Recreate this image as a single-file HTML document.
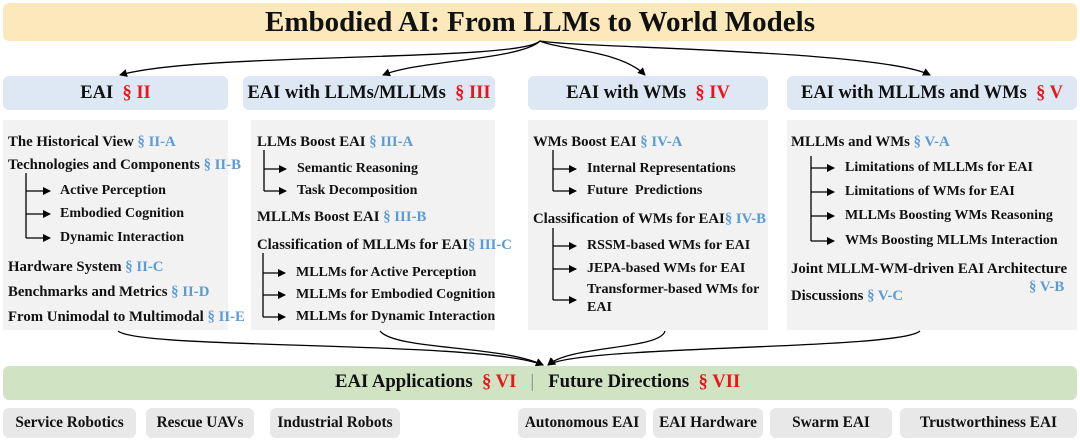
<!DOCTYPE html><html><head><style>
body{margin:0;width:1080px;height:442px;position:relative;background:#fff;font-family:"Liberation Serif",serif;font-weight:bold;color:#111;overflow:hidden}
.a{position:absolute;white-space:nowrap}
.bx{position:absolute;border-radius:6px;white-space:nowrap}
.t{position:absolute;white-space:nowrap;font-size:14.8px;line-height:18px}
.s{font-size:14px}
.b{color:#5b9bd5}.r{color:#e8161b}
.h{display:flex;align-items:center;justify-content:center;font-size:18.5px}
.p{background:#e8e8e8;display:flex;align-items:center;justify-content:center;font-size:15.3px}
</style></head><body>
<div class="bx h" style="left:3px;top:3px;width:1074px;height:38px;background:#fbe9bc;font-size:29px">Embodied AI: From LLMs to World Models</div>
<div class="bx h" style="left:3px;top:76px;width:225px;height:34px;background:#dde8f4">EAI&nbsp;&nbsp;<span class="r">§ II</span></div>
<div class="bx h" style="left:243px;top:76px;width:252px;height:34px;background:#dde8f4">EAI with LLMs/MLLMs&nbsp;&nbsp;<span class="r">§ III</span></div>
<div class="bx h" style="left:528px;top:76px;width:240px;height:34px;background:#dde8f4">EAI with WMs&nbsp;&nbsp;<span class="r">§ IV</span></div>
<div class="bx h" style="left:787px;top:76px;width:290px;height:34px;background:#dde8f4">EAI with MLLMs and WMs&nbsp;&nbsp;<span class="r">§ V</span></div>
<div class="a" style="left:3px;top:120px;width:225px;height:210px;background:#f2f2f2"></div>
<div class="a" style="left:251px;top:120px;width:244px;height:210px;background:#f2f2f2"></div>
<div class="a" style="left:528px;top:120px;width:240px;height:210px;background:#f2f2f2"></div>
<div class="a" style="left:787px;top:120px;width:290px;height:210px;background:#f2f2f2"></div>
<div class="bx" style="left:3px;top:366px;width:1074px;height:34px;background:#d0e4c4"></div>
<div class="a" style="left:335px;top:371px;font-size:18.7px">EAI Applications&nbsp;&nbsp;<span class="r">§ VI</span>&nbsp;&nbsp;&nbsp;<span style="color:#888;font-weight:normal">|</span>&nbsp;&nbsp;&nbsp;Future Directions&nbsp;&nbsp;<span class="r">§ VII</span></div>
<div class="bx p" style="left:3px;top:408px;width:133px;height:30px">Service Robotics</div>
<div class="bx p" style="left:146px;top:408px;width:108px;height:30px">Rescue UAVs</div>
<div class="bx p" style="left:270px;top:408px;width:130px;height:30px">Industrial Robots</div>
<div class="bx p" style="left:518px;top:408px;width:128px;height:30px">Autonomous EAI</div>
<div class="bx p" style="left:653px;top:408px;width:110px;height:30px">EAI Hardware</div>
<div class="bx p" style="left:770px;top:408px;width:122px;height:30px">Swarm EAI</div>
<div class="bx p" style="left:900px;top:408px;width:177px;height:30px">Trustworthiness EAI</div>
<!-- col1 -->
<div class="t" style="left:8px;top:133px">The Historical View <span class="b">§ II-A</span></div>
<div class="t" style="left:8px;top:156px">Technologies and Components <span class="b">§ II-B</span></div>
<div class="t s" style="left:60px;top:182px">Active Perception</div>
<div class="t s" style="left:60px;top:205px">Embodied Cognition</div>
<div class="t s" style="left:60px;top:229px">Dynamic Interaction</div>
<div class="t" style="left:8px;top:258px">Hardware System <span class="b">§ II-C</span></div>
<div class="t" style="left:8px;top:283px">Benchmarks and Metrics <span class="b">§ II-D</span></div>
<div class="t" style="left:8px;top:308px">From Unimodal to Multimodal <span class="b">§ II-E</span></div>
<!-- col2 -->
<div class="t" style="left:257px;top:133px">LLMs Boost EAI <span class="b">§ III-A</span></div>
<div class="t s" style="left:297px;top:160px">Semantic Reasoning</div>
<div class="t s" style="left:297px;top:182px">Task Decomposition</div>
<div class="t" style="left:257px;top:208px">MLLMs Boost EAI <span class="b">§ III-B</span></div>
<div class="t" style="left:257px;top:236px">Classification of MLLMs for EAI<span class="b">§ III-C</span></div>
<div class="t s" style="left:296px;top:264px">MLLMs for Active Perception</div>
<div class="t s" style="left:296px;top:286px">MLLMs for Embodied Cognition</div>
<div class="t s" style="left:296px;top:308px">MLLMs for Dynamic Interaction</div>
<!-- col3 -->
<div class="t" style="left:533px;top:133px">WMs Boost EAI <span class="b">§ IV-A</span></div>
<div class="t s" style="left:587px;top:160px">Internal Representations</div>
<div class="t s" style="left:587px;top:182px">Future&nbsp; Predictions</div>
<div class="t" style="left:533px;top:210px">Classification of WMs for EAI<span class="b">§ IV-B</span></div>
<div class="t s" style="left:587px;top:237px">RSSM-based WMs for EAI</div>
<div class="t s" style="left:587px;top:260px">JEPA-based WMs for EAI</div>
<div class="t s" style="left:587px;top:281px;line-height:18px">Transformer-based WMs for<br>EAI</div>
<!-- col4 -->
<div class="t" style="left:791px;top:133px">MLLMs and WMs <span class="b">§ V-A</span></div>
<div class="t s" style="left:845px;top:159px">Limitations of MLLMs for EAI</div>
<div class="t s" style="left:845px;top:183px">Limitations of WMs for EAI</div>
<div class="t s" style="left:845px;top:207px">MLLMs Boosting WMs Reasoning</div>
<div class="t s" style="left:845px;top:232px">WMs Boosting MLLMs Interaction</div>
<div class="t" style="left:791px;top:260px">Joint MLLM-WM-driven EAI Architecture</div>
<div class="t" style="left:1029px;top:278px"><span class="b">§ V-B</span></div>
<div class="t" style="left:791px;top:287px">Discussions <span class="b">§ V-C</span></div>
<svg class="a" style="left:0;top:0" width="1080" height="442">
<defs><marker id="m" markerWidth="8" markerHeight="8" refX="7" refY="4" orient="auto" markerUnits="userSpaceOnUse"><path d="M0,0 L8,4 L0,8z" fill="#000"/></marker></defs>
<g stroke="#000" stroke-width="1.3" fill="none" marker-end="url(#m)">
<path d="M26,173 V238" marker-end="none"/>
<path d="M26,191 H50"/><path d="M26,214 H50"/><path d="M26,238 H50"/>
<path d="M264,150 V191" marker-end="none"/><path d="M264,169 H286"/><path d="M264,191 H286"/>
<path d="M263,253 V317" marker-end="none"/><path d="M263,273 H285"/><path d="M263,295 H285"/><path d="M263,317 H285"/>
<path d="M553,150 V191" marker-end="none"/><path d="M553,169 H576"/><path d="M553,191 H576"/>
<path d="M553,228 V300" marker-end="none"/><path d="M553,246 H576"/><path d="M553,269 H576"/><path d="M553,300 H576"/>
<path d="M811,156 V241" marker-end="none"/><path d="M811,168 H834"/><path d="M811,192 H834"/><path d="M811,216 H834"/><path d="M811,241 H834"/>
<path d="M540,41 C520,62 200,52 120,75"/>
<path d="M540,41 C520,60 420,60 383,75"/>
<path d="M540,41 C560,50 620,50 645,75"/>
<path d="M540,41 C580,48 880,50 930,75"/>
<path d="M118,331 C140,350 480,340 543,365"/>
<path d="M380,331 C395,350 500,345 543,365"/>
<path d="M665,331 C660,350 570,345 548,365"/>
<path d="M920,331 C900,350 580,345 548,365"/>
</g></svg>
</body></html>
